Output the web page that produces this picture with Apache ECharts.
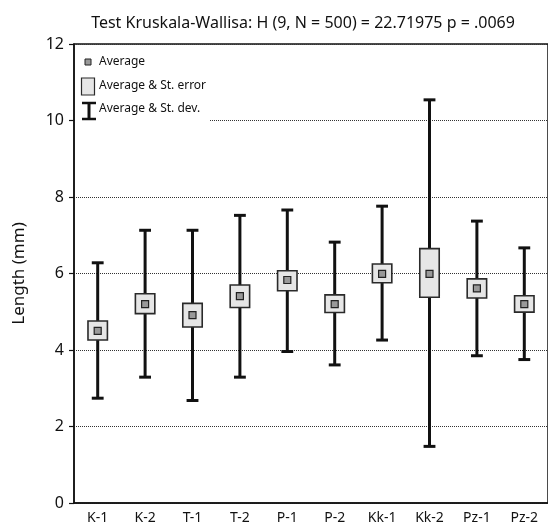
<!DOCTYPE html>
<html>
<head>
<meta charset="utf-8">
<script src="https://cdn.jsdelivr.net/npm/echarts@6/dist/echarts.min.js"></script>
<style>
  html, body { margin: 0; padding: 0; background: #fff; }
  #chart { width: 548px; height: 528px; }
</style>
</head>
<body>
<div id="chart"></div>
<script>
var categories = ['K-1', 'K-2', 'T-1', 'T-2', 'P-1', 'P-2', 'Kk-1', 'Kk-2', 'Pz-1', 'Pz-2'];
var means   = [4.50, 5.20, 4.91, 5.41, 5.83, 5.20, 5.99, 5.99, 5.61, 5.20];
var seLow   = [4.26, 4.95, 4.60, 5.11, 5.55, 4.98, 5.76, 5.38, 5.36, 4.99];
var seHigh  = [4.76, 5.47, 5.22, 5.70, 6.07, 5.44, 6.25, 6.65, 5.86, 5.42];
var sdLow   = [2.74, 3.29, 2.68, 3.29, 3.96, 3.61, 4.26, 1.48, 3.85, 3.75];
var sdHigh  = [6.28, 7.13, 7.13, 7.52, 7.66, 6.82, 7.76, 10.54, 7.37, 6.67];
var yTicks  = [0, 2, 4, 6, 8, 10, 12];

var FONT = 'Noto Sans';

var chart = echarts.init(document.getElementById('chart'));

var rows = categories.map(function (c, i) {
  return [i, sdLow[i], seLow[i], means[i], seHigh[i], sdHigh[i]];
});

// whisker (st. dev.), box (st. error) and mean square for one category
function renderItem(params, api) {
  var x = api.value(0);
  var pLo = api.coord([x, api.value(1)]);
  var pSeLo = api.coord([x, api.value(2)]);
  var pMean = api.coord([x, api.value(3)]);
  var pSeHi = api.coord([x, api.value(4)]);
  var pHi = api.coord([x, api.value(5)]);
  var band = api.size([1, 0])[0];
  var boxW = band * 0.41;
  var capW = band * 0.25;
  var cx = pMean[0];
  var black = { stroke: '#111', lineWidth: 3 };
  return {
    type: 'group',
    children: [
      { type: 'line', shape: { x1: cx, y1: pLo[1], x2: cx, y2: pHi[1] }, style: black },
      { type: 'line', shape: { x1: cx - capW / 2, y1: pHi[1], x2: cx + capW / 2, y2: pHi[1] }, style: black },
      { type: 'line', shape: { x1: cx - capW / 2, y1: pLo[1], x2: cx + capW / 2, y2: pLo[1] }, style: black },
      {
        type: 'rect',
        shape: { x: cx - boxW / 2, y: pSeHi[1], width: boxW, height: pSeLo[1] - pSeHi[1] },
        style: { fill: '#e6e6e6', stroke: '#2a2a2a', lineWidth: 1.6 }
      },
      {
        type: 'rect',
        shape: { x: cx - 3.5, y: pMean[1] - 3.5, width: 7, height: 7 },
        style: { fill: '#999', stroke: '#222', lineWidth: 1.2 }
      }
    ]
  };
}

var legendText = { fill: '#111', font: '12px ' + FONT, textVerticalAlign: 'middle' };

var option = {
  animation: false,
  title: {
    text: 'Test Kruskala-Wallisa: H (9, N = 500) = 22.71975 p = .0069',
    left: 298,
    top: 10,
    textAlign: 'center',
    textStyle: { fontFamily: FONT, fontSize: 16, fontWeight: 'normal', color: '#111' }
  },
  grid: {
    left: 74, right: -1, top: 44, bottom: 25,
    show: true, borderColor: '#111', borderWidth: 1.5, backgroundColor: 'transparent'
  },
  xAxis: {
    type: 'category',
    data: categories,
    axisLine: { lineStyle: { color: '#111', width: 1.5 } },
    axisTick: { alignWithLabel: true, length: 5, lineStyle: { color: '#111', width: 1.2 } },
    axisLabel: { color: '#111', fontFamily: FONT, fontSize: 14, margin: 8 },
    splitLine: { show: false }
  },
  yAxis: {
    type: 'value',
    min: yTicks[0],
    max: yTicks[yTicks.length - 1],
    interval: 2,
    name: 'Length (mm)',
    nameLocation: 'middle',
    nameGap: 46,
    nameTextStyle: { color: '#111', fontFamily: FONT, fontSize: 17 },
    axisLine: { show: true, lineStyle: { color: '#111', width: 1.5 } },
    axisTick: { show: true, length: 5, lineStyle: { color: '#111', width: 1.2 } },
    axisLabel: { color: '#111', fontFamily: FONT, fontSize: 16, margin: 10 },
    splitLine: { show: true, lineStyle: { color: '#333', type: [1, 1], width: 1 } }
  },
  graphic: [
    { type: 'rect', z: 10, shape: { x: 76, y: 46, width: 134, height: 80 }, style: { fill: '#fff' } },
    { type: 'rect', z: 11, shape: { x: 85, y: 59, width: 6, height: 6 }, style: { fill: '#999', stroke: '#222', lineWidth: 1 } },
    { type: 'text', z: 11, x: 99, y: 62, style: Object.assign({ text: 'Average' }, legendText) },
    { type: 'rect', z: 11, shape: { x: 81.5, y: 78, width: 13, height: 17 }, style: { fill: '#e6e6e6', stroke: '#2a2a2a', lineWidth: 1.2 } },
    { type: 'text', z: 11, x: 99, y: 86, style: Object.assign({ text: 'Average & St. error' }, legendText) },
    { type: 'line', z: 11, shape: { x1: 89, y1: 103, x2: 89, y2: 119 }, style: { stroke: '#111', lineWidth: 3 } },
    { type: 'line', z: 11, shape: { x1: 82, y1: 103, x2: 96, y2: 103 }, style: { stroke: '#111', lineWidth: 2.5 } },
    { type: 'line', z: 11, shape: { x1: 82, y1: 119, x2: 96, y2: 119 }, style: { stroke: '#111', lineWidth: 2.5 } },
    { type: 'text', z: 11, x: 99, y: 109, style: Object.assign({ text: 'Average & St. dev.' }, legendText) }
  ],
  series: [
    {
      type: 'custom',
      renderItem: renderItem,
      encode: { x: 0, y: [1, 2, 3, 4, 5] },
      data: rows,
      z: 5
    }
  ]
};

chart.setOption(option);
</script>
</body>
</html>
